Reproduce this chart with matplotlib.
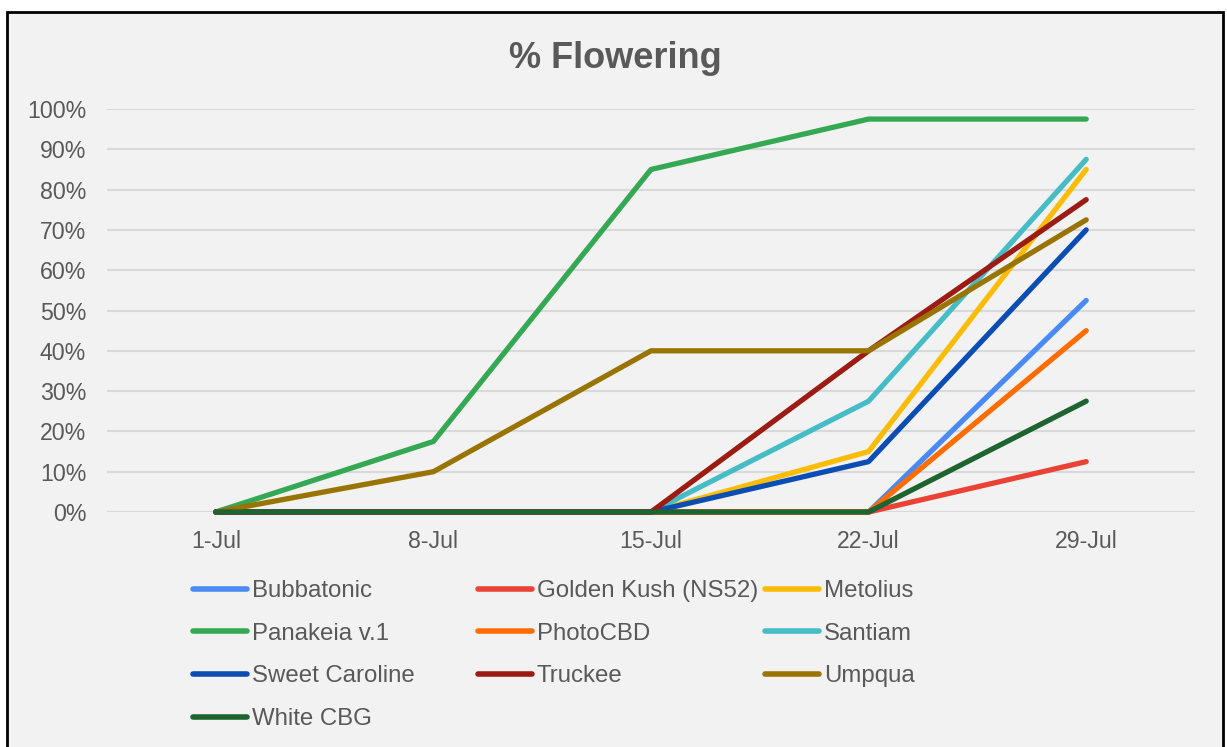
import matplotlib.pyplot as plt
from matplotlib.patches import Rectangle
from matplotlib.lines import Line2D
from matplotlib.ticker import PercentFormatter

plt.rcParams['font.family'] = ['Liberation Sans', 'DejaVu Sans']

dates = ['1-Jul', '8-Jul', '15-Jul', '22-Jul', '29-Jul']
names = ['Bubbatonic', 'Golden Kush (NS52)', 'Metolius', 'Panakeia v.1', 'PhotoCBD',
         'Santiam', 'Sweet Caroline', 'Truckee', 'Umpqua', 'White CBG']
colors = ['#4a8af4', '#ea4335', '#fbbc04', '#34a853', '#ff6d01',
          '#46bdc6', '#0b4db3', '#9c1b12', '#9a7400', '#1e6430']

bubbatonic = [0, 0, 0, 0, 52.5]
golden_kush = [0, 0, 0, 0, 12.5]
metolius = [0, 0, 0, 15, 85]
panakeia = [0, 17.5, 85, 97.5, 97.5]
photocbd = [0, 0, 0, 0, 45]
santiam = [0, 0, 0, 27.5, 87.5]
sweet_caroline = [0, 0, 0, 12.5, 70]
truckee = [0, 0, 0, 40, 77.5]
umpqua = [0, 10, 40, 40, 72.5]
white_cbg = [0, 0, 0, 0, 27.5]

series = [bubbatonic, golden_kush, metolius, panakeia, photocbd,
          santiam, sweet_caroline, truckee, umpqua, white_cbg]

text_color = '#595959'
bg = '#f2f2f2'

fig = plt.figure(figsize=(12.27, 7.47), dpi=100)
fig.patch.set_facecolor('white')
# grey chart area with black frame (bottom edge runs off the picture)
fig.patches.append(Rectangle((7 / 1227, -0.05), 1216 / 1227, 1 - 12 / 747 + 0.05,
                             transform=fig.transFigure, facecolor=bg,
                             edgecolor='black', linewidth=2, zorder=-5))

ax = fig.add_axes([107 / 1227, (747 - 512) / 747, 1088 / 1227, 403 / 747])
ax.set_facecolor(bg)
ax.set_zorder(2)

x = list(range(len(dates)))
for name, vals, c in zip(names, series, colors):
    ax.plot(x, vals, color=c, linewidth=3.8, solid_capstyle='round',
            solid_joinstyle='round', label=name, clip_on=False, zorder=3)

ax.set_xlim(-0.5, len(dates) - 0.5)
ax.set_ylim(0, 100)
ax.set_yticks(range(0, 101, 10))
ax.yaxis.set_major_formatter(PercentFormatter(decimals=0))
ax.set_xticks(x)
ax.set_xticklabels(dates)
ax.grid(axis='y', color='#d9d9d9', linewidth=1.5, zorder=1)
ax.set_axisbelow(True)
for s in ax.spines.values():
    s.set_visible(False)
ax.tick_params(axis='both', length=0, labelsize=16.7, labelcolor=text_color)
ax.tick_params(axis='y', pad=15)
ax.tick_params(axis='x', pad=13)

fig.text(615 / 1227, 1 - 58 / 747, '% Flowering', ha='center', va='center',
         fontsize=26, fontweight='bold', color=text_color)

# legend: three columns, filled row by row
col_x = [193 / 1227, 478 / 1227, 765 / 1227]
for c in range(3):
    idx = list(range(c, len(names), 3))
    handles = [Line2D([], [], color=colors[i], linewidth=4, solid_capstyle='round')
               for i in idx]
    labels = [names[i] for i in idx]
    fig.legend(handles, labels, loc='upper left',
               bbox_to_anchor=(col_x[c], 1 - 580 / 747),
               frameon=False, fontsize=17.3, labelcolor=text_color,
               handlelength=2.25, handletextpad=0.2, labelspacing=0.86,
               borderpad=0, borderaxespad=0)

fig.savefig('out.png', dpi=100, facecolor=fig.get_facecolor())
